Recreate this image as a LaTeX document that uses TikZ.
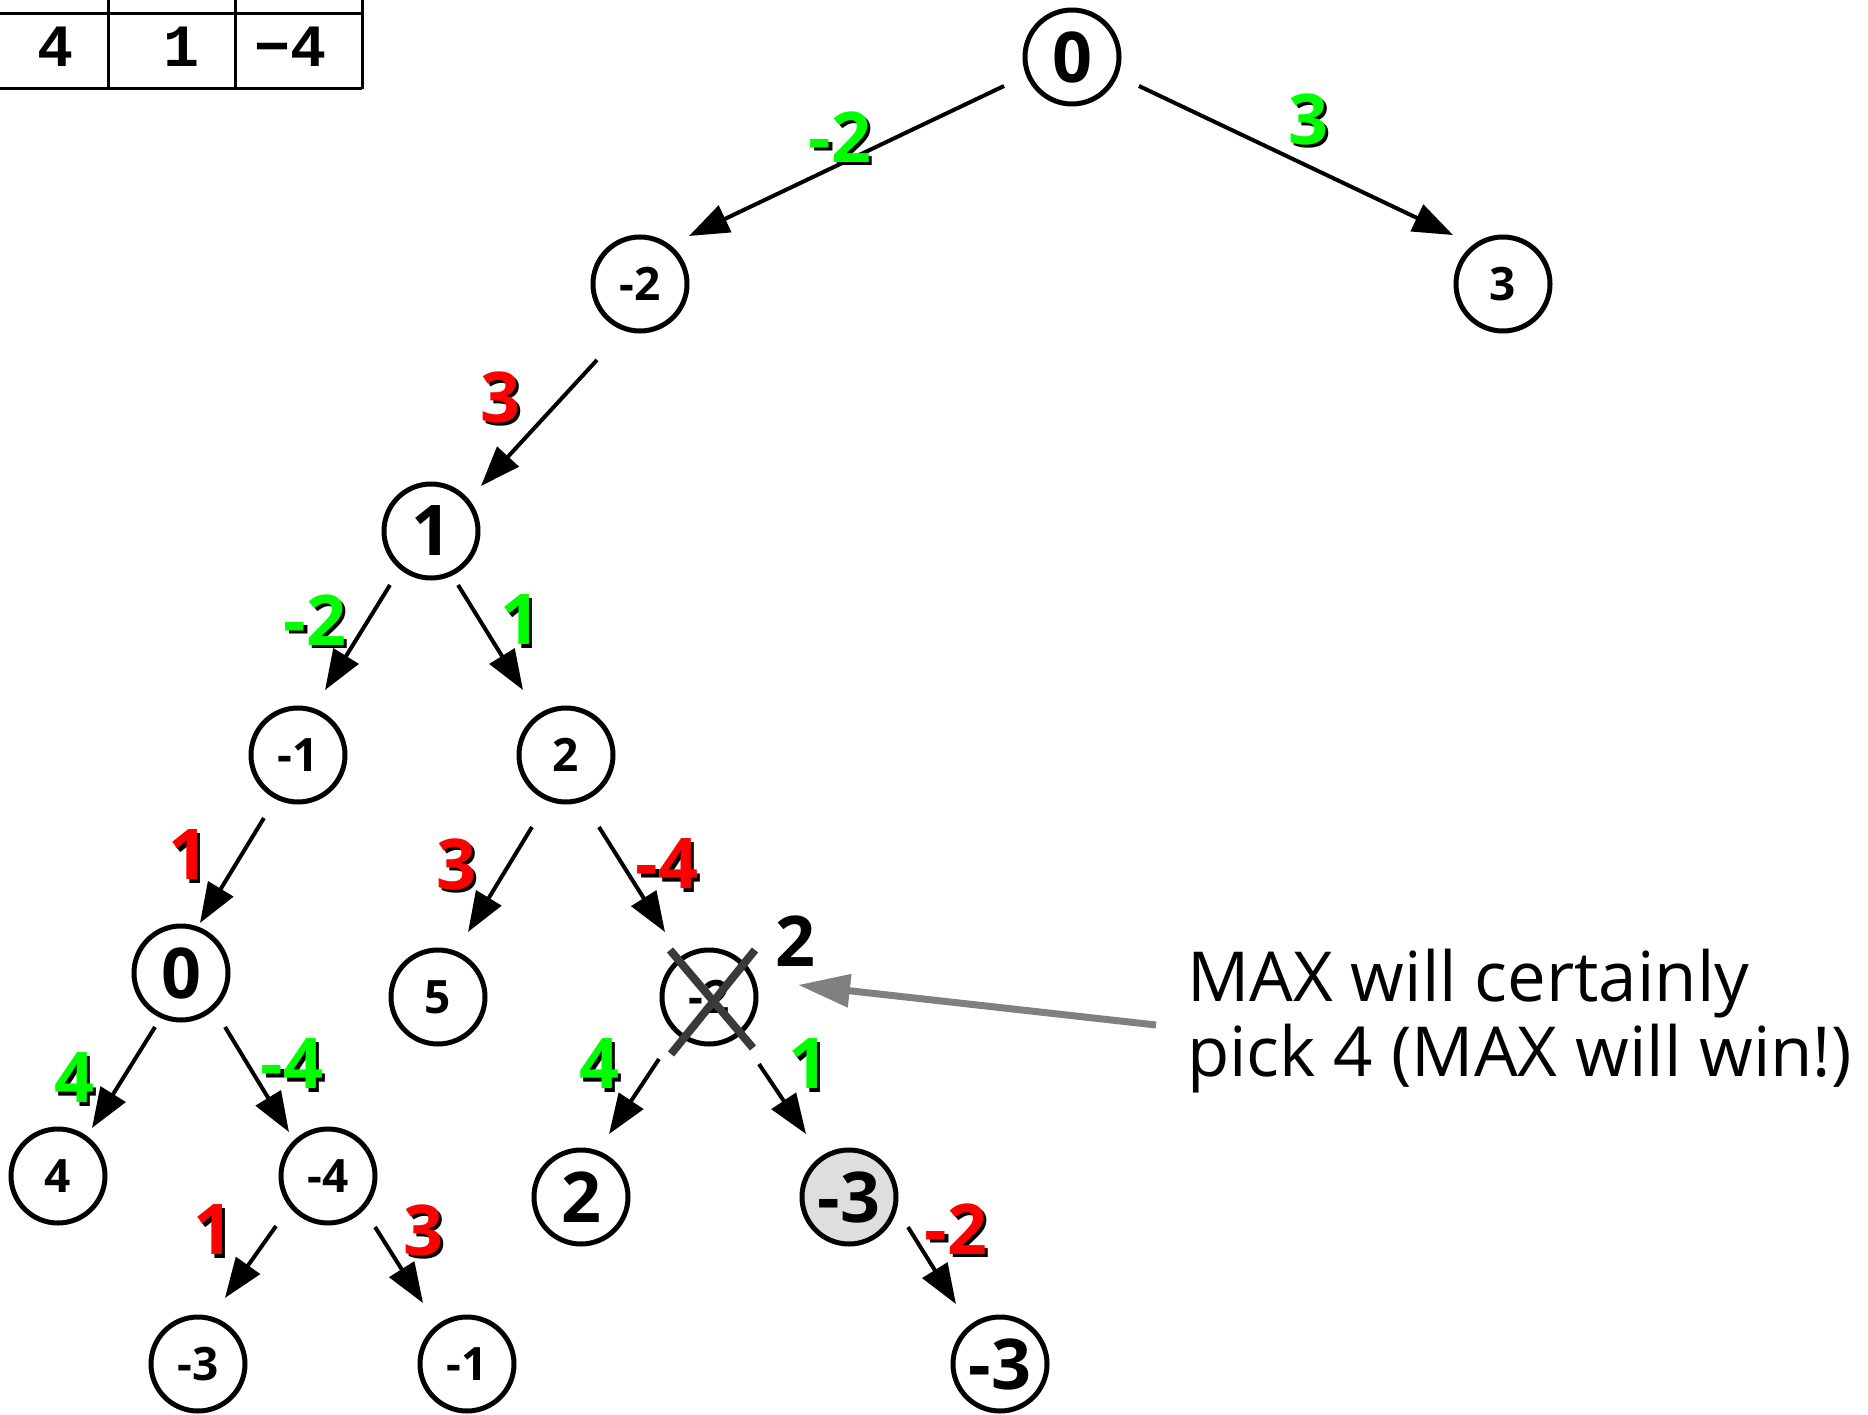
\documentclass[tikz,border=0pt]{standalone}
\usepackage{fontspec}
\setmainfont{Open Sans}
\newfontfamily\tablefont{Liberation Mono}
\usetikzlibrary{arrows.meta,calc}

\definecolor{valgreen}{RGB}{0,255,0}
\definecolor{valred}{RGB}{255,0,0}
\definecolor{crossgray}{RGB}{58,58,58}
\definecolor{notegray}{RGB}{128,128,128}
\definecolor{nodefill}{RGB}{222,222,222}

% edge value with a black drop shadow: name, x, y, colour, text
\newcommand{\edgevalue}[5]{%
  \node[evalue,text=black] (#1-shadow) at (#2+3.5,#3-3.5) {#5};
  \node[evalue,text=#4] (#1) at (#2,#3) {#5};}
% arrow between two states: from, angle, distance, to, angle, distance
\newcommand{\link}[6]{%
  \draw[arr] ($(#1)+(#2:#3pt)$) -- ($(#4)+(#5:#6pt)$);}

\begin{document}
\begin{tikzpicture}[x=1pt,y=1pt,
  state/.style={circle,draw,line width=5pt,minimum size=94pt,inner sep=0pt,
    font=\bfseries\fontsize{46}{46}\selectfont},
  bigstate/.style={state,font=\bfseries\fontsize{70}{70}\selectfont},
  arr/.style={line width=4pt,-{Triangle[length=40pt,width=29pt]}},
  evalue/.style={inner sep=0pt,font=\bfseries\fontsize{70}{70}\selectfont},
  cell/.style={inner sep=0pt,font=\tablefont\bfseries\fontsize{60}{60}\selectfont},
  grid/.style={line width=3pt},
]
\useasboundingbox (0,0) rectangle (1868,-1415);

% score table in the corner
\draw[grid] (0,-14) -- (362,-14);
\draw[grid] (0,-89) -- (362,-89);
\foreach \x in {108,235,362} \draw[grid] (\x,0) -- (\x,-89);
\node[cell] (t1) at (56,-47) {4};
\node[cell] (t2) at (182,-47) {1};
\node[cell] (t3) at (291,-47) {−4};

% game tree states
\node[bigstate] (root) at (1072,-57) {0};
\node[state] (a) at (640,-284) {-2};
\node[state] (b) at (1503,-284) {3};
\node[bigstate] (c) at (431,-531) {1};
\node[state] (d) at (298,-755) {-1};
\node[state] (e) at (566,-755) {2};
\node[bigstate] (f) at (181,-973) {0};
\node[state] (g) at (438,-997) {5};
\node[state] (h) at (709,-997) {-2};
\node[state] (i) at (58,-1176) {4};
\node[state] (j) at (328,-1176) {-4};
\node[bigstate] (k) at (581,-1197) {2};
\node[bigstate,fill=nodefill] (l) at (849,-1197) {-3};
\node[state] (m) at (198,-1364) {-3};
\node[state] (n) at (467,-1364) {-1};
\node[bigstate] (o) at (1000,-1364) {-3};

% moves
\link{root}{203.1}{73.9}{a}{44.4}{68.6}
\link{root}{-23.4}{73}{b}{135.6}{70}
\link{a}{-119.5}{87.3}{c}{42}{67.3}
\link{c}{-127.2}{67.8}{d}{67.4}{70.4}
\link{c}{-63.4}{60.4}{e}{123.5}{77.9}
\link{d}{-118.4}{71.6}{f}{69.2}{53.5}
\link{e}{-115.3}{79.6}{g}{65.2}{71.6}
\link{e}{-65.4}{79.2}{h}{124.1}{78.5}
\link{f}{-115.7}{59.9}{i}{54.7}{58.8}
\link{f}{-50.8}{69.7}{j}{131.6}{58.8}
\link{h}{-128.9}{79.6}{k}{66}{68.9}
\link{h}{-53.3}{83.6}{l}{124.3}{76.3}
\link{j}{-136.1}{72.1}{m}{67.8}{71.3}
\link{j}{-47.3}{69.4}{n}{125.8}{75.2}
\link{l}{-27}{66.2}{o}{126.3}{74.4}

% move values
\edgevalue{v1}{840}{-137}{valgreen}{-2}
\edgevalue{v2}{1308}{-119}{valgreen}{3}
\edgevalue{v3}{500}{-397}{valred}{3}
\edgevalue{v4}{315}{-620}{valgreen}{-2}
\edgevalue{v5}{520}{-620}{valgreen}{1}
\edgevalue{v6}{188}{-855}{valred}{1}
\edgevalue{v7}{456}{-864}{valred}{3}
\edgevalue{v8}{667}{-864}{valred}{-4}
\edgevalue{v9}{74}{-1078}{valgreen}{4}
\edgevalue{v10}{292}{-1064}{valgreen}{-4}
\edgevalue{v11}{599}{-1064}{valgreen}{4}
\edgevalue{v12}{808}{-1064}{valgreen}{1}
\edgevalue{v13}{213}{-1230}{valred}{1}
\edgevalue{v14}{423}{-1230}{valred}{3}
\edgevalue{v15}{956}{-1229}{valred}{-2}

% crossed-out value and its replacement
\draw[crossgray,line width=8pt] ($(h)+(-39,47)$) -- ($(h)+(44,-51)$);
\draw[crossgray,line width=8pt] ($(h)+(46,47)$) -- ($(h)+(-38,-57)$);
\node[evalue] (hnew) at (795,-941) {2};

% note
\node[anchor=base west,inner sep=0pt,align=left,
  font=\fontsize{69}{75}\selectfont] (note) at (1187,-1076)
  {MAX will certainly\\pick 4 (MAX will win!)};
\coordinate (notetail) at (1156,-1025);
\draw[notegray,line width=7pt,-{Triangle[length=52pt,width=32pt]}]
  (notetail) -- ($(h)+(7.7:89.8pt)$);
\end{tikzpicture}
\end{document}
